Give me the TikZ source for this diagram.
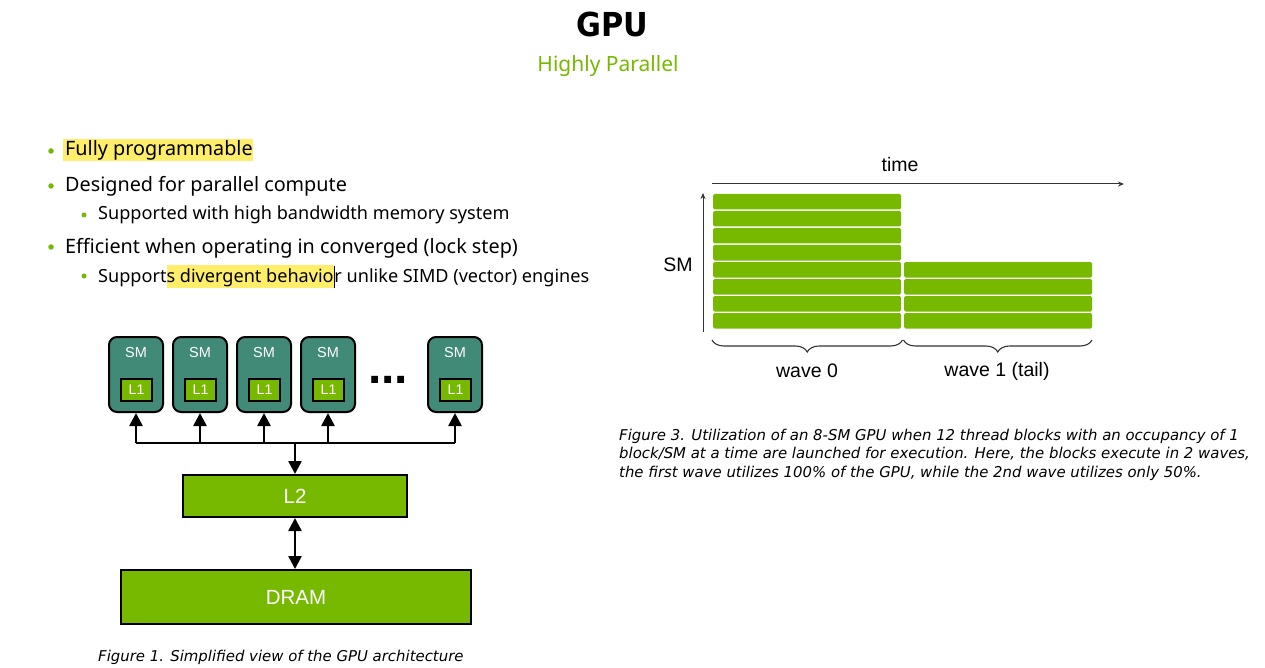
\documentclass[tikz,border=0pt]{standalone}
\usepackage{fontspec}
\setmainfont{Noto Sans}
\newfontfamily\arialfont{Liberation Sans}
\newfontfamily\capfont{DejaVu Sans}
\newfontfamily\titlefont{DejaVu Sans}[FakeStretch=0.92]
\usetikzlibrary{arrows.meta,decorations.pathreplacing}
\definecolor{nvgreen}{HTML}{76B900}
\definecolor{smteal}{HTML}{418A78}
\definecolor{hl}{HTML}{FFEE6A}
\definecolor{axisgray}{HTML}{333333}
\newcommand\hlbox[1]{{\setlength{\fboxsep}{0pt}\colorbox{hl}{\rule[-5.5pt]{0pt}{22pt}#1}}}
\newcommand\fsz[1]{\fontsize{#1}{#1}\selectfont}
\begin{document}
\begin{tikzpicture}[x=1pt,y=-1pt,
  txt/.style={inner sep=0pt, anchor=base west, font=\fsz{19.8}},
  subtxt/.style={inner sep=0pt, anchor=base west, font=\fsz{18.1}},
  dot/.style={fill=nvgreen, circle, inner sep=0pt, minimum size=5.5pt},
  smbox/.style={draw=black, line width=2pt, fill=smteal, rounded corners=8pt,
    minimum width=54pt, minimum height=75pt, inner sep=0pt},
  l1box/.style={draw=black, line width=2pt, fill=nvgreen, minimum width=31pt,
    minimum height=22pt, inner sep=0pt, text=white, font=\arialfont\fsz{14}},
  smlabel/.style={text=white, font=\arialfont\fsz{14.5}, inner sep=0pt},
  membox/.style={draw=black, line width=2pt, fill=nvgreen, inner sep=0pt,
    text=white, font=\arialfont\fsz{20.5}},
  link/.style={line width=2.5pt, draw=black},
  arr/.style={link, -{Triangle[length=13pt,width=13pt]}},
  darr/.style={link, {Triangle[length=13pt,width=13pt]}-{Triangle[length=13pt,width=13pt]}},
  bar/.style={fill=nvgreen, rounded corners=1.5pt},
  axis/.style={line width=1pt, draw=axisgray, -{Stealth[length=6pt,width=5pt]}},
  brace/.style={draw=axisgray, line width=1.1pt, decorate,
    decoration={brace, amplitude=12pt, mirror}},
  chartlabel/.style={font=\arialfont\fsz{19.5}, inner sep=0pt},
  caption/.style={font=\capfont\itshape\fsz{14.9}, inner sep=0pt, anchor=base west}
]
\useasboundingbox (0,0) rectangle (1265,668);

% title
\node[font=\titlefont\bfseries\fsz{33}, inner sep=0pt] (title) at (612,24) {GPU};
\node[font=\fsz{21}, text=nvgreen, inner sep=0pt] (subtitle) at (608,66) {Highly Parallel};

% bullet list
\node[dot] (b1) at (51,151) {};
\node[txt] (t1) at (63,156) {\hlbox{\hspace{2pt}Fully programmable}};
\node[dot] (b2) at (51,186) {};
\node[txt] (t2) at (65,192) {Designed for parallel compute};
\node[dot, minimum size=5pt] (b3) at (84,215) {};
\node[subtxt] (t3) at (98,220) {Supported with high bandwidth memory system};
\node[dot] (b4) at (51,247) {};
\node[txt] (t4) at (65,253) {Efficient when operating in converged (lock step)};
\node[dot, minimum size=5pt] (b5) at (84,276) {};
\node[subtxt] (t5) at (98,282) {Support\hlbox{s divergent behavio}\rule[-5.5pt]{0.8pt}{22pt}r unlike SIMD (vector) engines};

% GPU architecture
\foreach \i/\x in {1/136,2/200,3/264,4/328,5/455}{
  \node[smbox] (sm\i) at (\x,374.5) {};
  \node[smlabel] (sml\i) at (\x,353) {SM};
  \node[l1box] (l1\i) at (\x+0.5,390) {L1};
}
\node[font=\arialfont\bfseries\fsz{48}, inner sep=0pt] (ellipsis) at (388,379.5) {...};

\node[membox, minimum width=224pt, minimum height=42pt] (l2) at (295,496) {L2};
\node[membox, minimum width=350pt, minimum height=54pt] (dram) at (296,597) {DRAM};

\coordinate (bus) at (295,443);
\draw[link] (sm1.south |- bus) -- (sm5.south |- bus);
\foreach \i in {1,...,5}{
  \draw[arr] (sm\i.south |- bus) -- (sm\i.south);
}
\draw[arr] (bus) -- (l2.north);
\draw[darr] (l2.south) -- (l2.south |- dram.north);

\node[caption] (cap1) at (98,661) {Figure 1. Simplified view of the GPU architecture};

% wave utilisation chart
\coordinate (t0) at (712,184);
\coordinate (t1) at (1124,184);
\coordinate (s0) at (703,332);
\coordinate (s1) at (703,193);
\draw[axis] (t0) -- (t1);
\draw[axis] (s0) -- (s1);
\node[chartlabel] (timelbl) at (900,165) {time};
\node[chartlabel] (smlbl) at (678,265) {SM};

\foreach \r in {0,...,7}{
  \fill[bar] (713,194+17*\r) rectangle ++(188,15.5);
}
\foreach \r in {4,...,7}{
  \fill[bar] (904,194+17*\r) rectangle ++(188,15.5);
}

\coordinate (w0a) at (712,340);
\coordinate (w0b) at (902.5,340);
\coordinate (w1a) at (903.5,340);
\coordinate (w1b) at (1092,340);
\draw[brace] (w0a) -- (w0b);
\draw[brace] (w1a) -- (w1b);
\node[chartlabel] (wave0) at (807,371) {wave 0};
\node[chartlabel] (wave1) at (997,371) {wave 1 (tail)};

\node[caption] (cap3a) at (619,440) {Figure 3. Utilization of an 8-SM GPU when 12 thread blocks with an occupancy of 1};
\node[caption] (cap3b) at (619,458.5) {block/SM at a time are launched for execution. Here, the blocks execute in 2 waves,};
\node[caption] (cap3c) at (619,477) {the first wave utilizes 100\% of the GPU, while the 2nd wave utilizes only 50\%.};
\end{tikzpicture}
\end{document}
